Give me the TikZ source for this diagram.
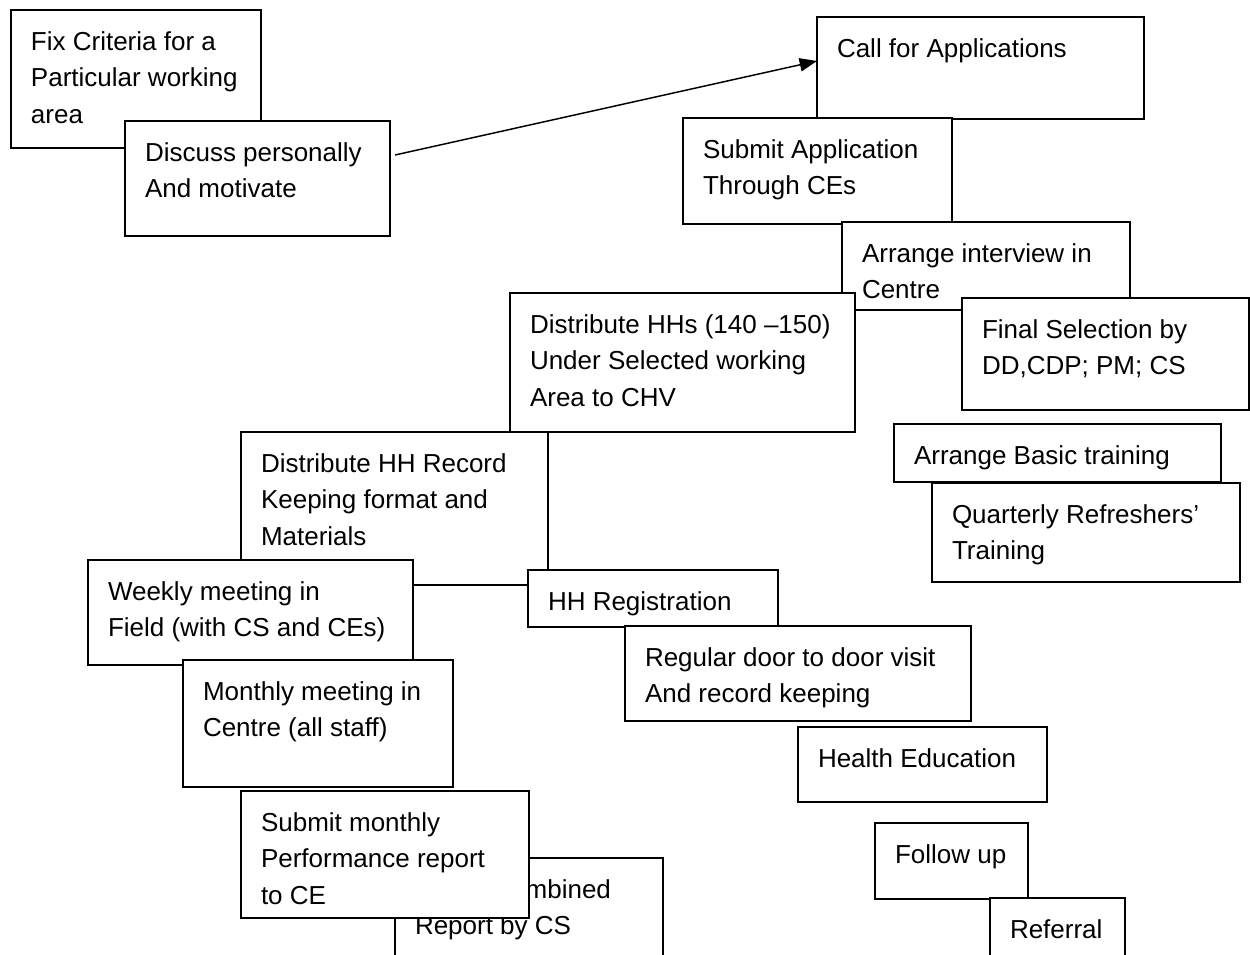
\documentclass[tikz,border=0pt]{standalone}
\usepackage{fontspec}
\setmainfont{Liberation Sans}
\usetikzlibrary{arrows.meta}
\tikzset{
  boxst/.style={draw=black, fill=white, line width=1.1pt, inner sep=0pt, outer sep=0pt, rectangle},
  txtst/.style={inner sep=0pt, outer sep=0pt, font=\fontsize{19.5pt}{27.4pt}\selectfont, text=black},
  arr/.style={line width=1.1pt, -{Triangle[length=13pt,width=10pt]}},
}
% #1 name, #2 x1, #3 y1, #4 x2, #5 y2, #6 text
\newcommand\flowbox[6]{%
  \node[boxst, minimum width={(#4-#2)*0.75pt}, minimum height={(#5-#3)*0.75pt}, anchor=north west] (#1) at (#2,#3) {};
  \node[txtst, anchor=base west] (#1t) at ([shift={(20,40)}]#1.north west) {\parbox[t]{12cm}{#6}};
}
\begin{document}
\begin{tikzpicture}[x=0.75pt,y=-0.75pt]
\clip (0,0) rectangle (1250,954);
\fill[white] (0,0) rectangle (1250,954);
\flowbox{fix}{11}{10}{261}{148}{Fix Criteria for a\\Particular working\\area}
\flowbox{disc}{125}{121}{390}{236}{Discuss personally\\And motivate}
\flowbox{call}{817}{17}{1144}{119}{Call for Applications}
\flowbox{subapp}{683}{118}{952}{224}{Submit Application\\Through CEs}
\flowbox{interview}{842}{222}{1130}{310}{Arrange interview in\\Centre}
\flowbox{disthh}{510}{293}{855}{432}{Distribute HHs (140 –150)\\Under Selected working\\Area to CHV}
\flowbox{final}{962}{298}{1249}{410}{Final Selection by\\DD,CDP; PM; CS}
\flowbox{record}{241}{432}{548}{585}{Distribute HH Record\\Keeping format and\\Materials}
\flowbox{basic}{894}{424}{1221}{482}{Arrange Basic training}
\flowbox{quarter}{932}{483}{1240}{582}{Quarterly Refreshers’\\Training}
\flowbox{weekly}{88}{560}{413}{665}{Weekly meeting in\\Field (with CS and CEs)}
\flowbox{hhreg}{528}{570}{778}{627}{HH Registration}
\flowbox{regular}{625}{626}{971}{721}{Regular door to door visit\\And record keeping}
\flowbox{monthly}{183}{660}{453}{787}{Monthly meeting in\\Centre (all staff)}
\flowbox{health}{798}{727}{1047}{802}{Health Education}
\flowbox{combined}{395}{858}{663}{980}{\hspace*{-8pt}Submit Combined\\Report by CS}
\flowbox{submon}{241}{791}{529}{918}{Submit monthly\\Performance report\\to CE}
\flowbox{follow}{875}{823}{1028}{899}{Follow up}
\flowbox{referral}{990}{898}{1125}{980}{Referral}
\draw[arr] ([shift={(5,34)}]disc.north east) -- ([shift={(0,44)}]call.north west);
\end{tikzpicture}
\end{document}
